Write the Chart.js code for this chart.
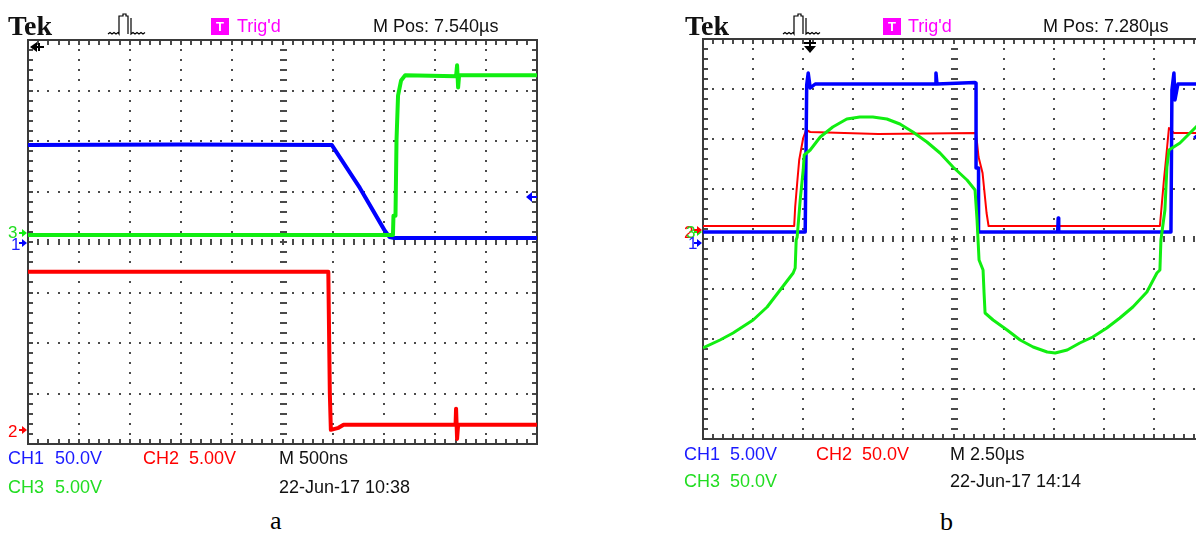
<!DOCTYPE html>
<html>
<head>
<meta charset="utf-8">
<script src="https://cdn.jsdelivr.net/npm/chart.js@4.4.1/dist/chart.umd.min.js"></script>
<style>
  html, body { margin: 0; padding: 0; width: 1196px; height: 533px; overflow: hidden; background: #fff; }
  canvas.scope { position: absolute; top: 0; }
  .t { position: absolute; white-space: pre; line-height: 1; font-family: "Liberation Sans", Arial, sans-serif; }
  .box { position: absolute; background: #ff00ff; color: #fff; font: bold 13px "Liberation Sans", Arial, sans-serif;
         display: flex; align-items: center; justify-content: center; }
</style>
</head>
<body>
<canvas id="scopeA" class="scope" style="left:0px" width="560" height="460"></canvas>
<canvas id="scopeB" class="scope" style="left:675px" width="560" height="460"></canvas>
<div id="texts"></div>
<script>
// ---- Screen a: 500 ns/div, traces in graticule divisions [time div, level div] ----
const aCh1 = [[0, 1.92], [3.0, 1.93], [5.97, 1.92], [6.52, 1.07], [7.0, 0.24], [7.1, 0.1], [7.2, 0.08], [10, 0.08]];
const aCh2 = [[0, -0.59], [5.9, -0.59], [5.93, -3.0], [5.95, -3.72], [6.1, -3.68], [6.2, -3.62], [8.4, -3.62],
              [8.41, -3.3], [8.43, -3.9], [8.45, -3.62], [10, -3.62]];
const aCh3 = [[0, 0.14], [7.17, 0.14], [7.18, 0.52], [7.22, 0.52], [7.24, 2.02], [7.27, 2.9], [7.33, 3.2],
              [7.41, 3.3], [8.41, 3.28], [8.43, 3.5], [8.45, 3.06], [8.47, 3.3], [10, 3.3]];
const aRefs = { ch1: -0.02, ch2: -3.73, ch3: 0.18 };
const aTrigLevel = 0.89;

// ---- Screen b: 2.50 us/div ----
const bCh1 = [[0, 0.14], [2.04, 0.14], [2.07, 3.08], [2.1, 3.32], [2.14, 3.02], [2.24, 3.1], [4.64, 3.1],
              [4.65, 3.32], [4.67, 3.1], [5.43, 3.13], [5.45, 3.12], [5.45, 1.42], [5.5, 1.42], [5.5, 0.14],
              [7.08, 0.14], [7.09, 0.42], [7.1, 0.14], [9.34, 0.14], [9.36, 2.98], [9.4, 3.32], [9.42, 2.78],
              [9.48, 3.1], [10, 3.1]];
const bCh2 = [[0, 0.26], [1.82, 0.26], [1.84, 0.64], [1.88, 1.12], [1.92, 1.58], [2.0, 2.02], [2.06, 2.18],
              [2.14, 2.14], [3.5, 2.1], [5.45, 2.12], [5.5, 1.64], [5.58, 1.32], [5.62, 0.92], [5.66, 0.52],
              [5.7, 0.26], [9.12, 0.26], [9.16, 0.72], [9.2, 1.18], [9.24, 1.58], [9.3, 2.22], [9.4, 2.12], [10, 2.12]];
const bCh3 = [[0, -2.18], [0.34, -2.02], [0.6, -1.88], [1.0, -1.62], [1.28, -1.36], [1.54, -1.02], [1.8, -0.68],
              [1.84, -0.58], [1.86, -0.02], [1.88, 0.04], [1.94, 0.78], [2.0, 1.38], [2.02, 1.68], [2.14, 1.78],
              [2.34, 2.04], [2.59, 2.24], [2.87, 2.4], [3.13, 2.44], [3.39, 2.44], [3.67, 2.4], [3.93, 2.3],
              [4.19, 2.14], [4.47, 1.94], [4.73, 1.72], [4.99, 1.44], [5.27, 1.18], [5.43, 0.98], [5.47, 0.38],
              [5.51, -0.42], [5.59, -0.62], [5.61, -1.08], [5.63, -1.48], [5.79, -1.62], [6.07, -1.82],
              [6.33, -2.02], [6.59, -2.16], [6.87, -2.26], [7.03, -2.28], [7.27, -2.22], [7.52, -2.08],
              [7.78, -1.96], [8.06, -1.78], [8.32, -1.58], [8.58, -1.36], [8.86, -1.06], [9.06, -0.68],
              [9.12, -0.62], [9.14, -0.02], [9.22, 0.58], [9.26, 1.44], [9.3, 1.78], [9.52, 1.92], [9.84, 2.24],
              [10, 2.4]];
const bRefs = { ch1: -0.08, ch2: 0.18, ch3: 0.14 };
const bTrigLevel = 2.04;
const bTrigPos = 2.14;

const BLUE = '#0000ff', RED = '#ff0000', GREEN = '#11ee11';

const pts = arr => arr.map(([x, y]) => ({ x, y }));

// Oscilloscope graticule: dotted divisions, ticked centre axes, ticked frame
const graticule = {
  id: 'graticule',
  beforeDatasetsDraw(chart) {
    const { ctx, chartArea: a, scales: { x, y } } = chart;
    const X = v => Math.round(x.getPixelForValue(v));
    const Y = v => Math.round(y.getPixelForValue(v));
    ctx.save();
    ctx.fillStyle = '#4a4a4a';
    for (let i = 1; i < 10; i++) {
      if (i === 5) continue;
      const px = X(i);
      for (let m = 1; m < 40; m++) ctx.fillRect(px - 1, Y(-4 + m * 0.2) - 1, 2, 2);
    }
    for (let k = -3; k <= 3; k++) {
      if (k === 0) continue;
      const py = Y(k);
      for (let m = 1; m < 50; m++) ctx.fillRect(X(m * 0.2) - 1, py - 1, 2, 2);
    }
    const cx = X(5), cy = Y(0);
    for (let m = 1; m < 40; m++) ctx.fillRect(cx - 3, Y(-4 + m * 0.2) - 1, 7, 2);
    for (let m = 1; m < 50; m++) ctx.fillRect(X(m * 0.2) - 1, cy - 3, 2, 6);
    for (let m = 1; m < 50; m++) {
      const px = X(m * 0.2);
      ctx.fillRect(px - 1, a.top, 2, 5);
      ctx.fillRect(px - 1, a.bottom - 5, 2, 5);
    }
    for (let m = 1; m < 40; m++) {
      const py = Y(-4 + m * 0.2);
      ctx.fillRect(a.left, py - 1, 5, 2);
      ctx.fillRect(a.right - 5, py - 1, 5, 2);
    }
    ctx.strokeStyle = '#3a3a3a';
    ctx.lineWidth = 2;
    ctx.strokeRect(a.left, a.top, a.right - a.left, a.bottom - a.top);
    ctx.restore();
  },
  afterDraw(chart, args, o) {
    const { ctx, chartArea: a, scales: { x, y } } = chart;
    const Y = v => y.getPixelForValue(v);
    ctx.save();
    // channel ground markers left of the frame
    for (const r of o.refs) {
      const py = Math.round(Y(r.level));
      ctx.fillStyle = r.color;
      ctx.beginPath();
      ctx.moveTo(a.left - 1, py);
      ctx.lineTo(a.left - 6, py - 4);
      ctx.lineTo(a.left - 6, py + 4);
      ctx.closePath();
      ctx.fill();
      ctx.fillRect(a.left - 9, py - 1, 4, 2);
    }
    // trigger level arrow at the right edge
    {
      const py = Math.round(Y(o.trigLevel));
      const tip = a.right - 11;
      ctx.fillStyle = BLUE;
      ctx.beginPath();
      ctx.moveTo(tip, py);
      ctx.lineTo(tip + 6, py - 5);
      ctx.lineTo(tip + 6, py + 5);
      ctx.closePath();
      ctx.fill();
      ctx.fillRect(tip + 5, py - 1, 6, 2);
    }
    // trigger position marker
    ctx.fillStyle = '#000';
    if (o.trigPos === null) {
      const px = a.left + 2, py = a.top + 7;
      ctx.beginPath();
      ctx.moveTo(px, py);
      ctx.lineTo(px + 7, py - 5);
      ctx.lineTo(px + 7, py + 5);
      ctx.closePath();
      ctx.fill();
      ctx.fillRect(px + 6, py - 1, 8, 2);
      ctx.fillRect(px + 8, py - 4, 2, 8);
    } else {
      const px = Math.round(x.getPixelForValue(o.trigPos)), py = a.top + 14;
      ctx.fillRect(px - 6, a.top + 3, 12, 2);
      ctx.fillRect(px - 1, a.top + 1, 2, 8);
      ctx.beginPath();
      ctx.moveTo(px, py);
      ctx.lineTo(px - 6, py - 7);
      ctx.lineTo(px + 6, py - 7);
      ctx.closePath();
      ctx.fill();
    }
    // acquisition pulse glyph in the status bar
    {
      const ox = 108;
      ctx.strokeStyle = '#000';
      ctx.lineWidth = 1.2;
      ctx.beginPath();
      ctx.moveTo(ox, 34);
      for (let i = 1; i <= 5; i++) ctx.lineTo(ox + i * 2, i % 2 ? 32.5 : 34);
      ctx.lineTo(ox + 11, 34);
      ctx.lineTo(ox + 11, 16);
      ctx.lineTo(ox + 15, 16);
      ctx.lineTo(ox + 15, 14);
      ctx.lineTo(ox + 18, 14);
      ctx.lineTo(ox + 18, 16);
      ctx.lineTo(ox + 20, 16);
      ctx.lineTo(ox + 20, 34);
      ctx.moveTo(ox + 23, 18);
      ctx.lineTo(ox + 23, 34);
      for (let i = 1; i <= 7; i++) ctx.lineTo(ox + 23 + i * 2, i % 2 ? 32.5 : 34);
      ctx.stroke();
    }
    ctx.restore();
  }
};

function scope(id, traces, pad, markers) {
  return new Chart(document.getElementById(id), {
    type: 'scatter',
    data: {
      datasets: traces.map(t => ({
        data: pts(t.data), showLine: true, borderColor: t.color, borderWidth: t.width,
        pointRadius: 0, tension: 0, order: t.order, borderJoinStyle: 'round'
      }))
    },
    options: {
      responsive: false, animation: false, events: [],
      layout: { padding: pad },
      plugins: { legend: { display: false }, tooltip: { enabled: false }, graticule: markers },
      scales: {
        x: { type: 'linear', min: 0, max: 10, display: false },
        y: { type: 'linear', min: -4, max: 4, display: false }
      }
    },
    plugins: [graticule]
  });
}

scope('scopeA', [
  { data: aCh3, color: GREEN, width: 4, order: 0 },
  { data: aCh1, color: BLUE, width: 4, order: 1 },
  { data: aCh2, color: RED, width: 4, order: 2 }
], { left: 28, right: 23, top: 40, bottom: 16 }, {
  refs: [{ level: aRefs.ch2, color: RED }, { level: aRefs.ch3, color: GREEN }, { level: aRefs.ch1, color: BLUE }],
  trigLevel: aTrigLevel, trigPos: null
});

scope('scopeB', [
  { data: bCh3, color: GREEN, width: 3, order: 0 },
  { data: bCh1, color: BLUE, width: 3.5, order: 1 },
  { data: bCh2, color: RED, width: 2, order: 2 }
], { left: 28, right: 31, top: 39, bottom: 21 }, {
  refs: [{ level: bRefs.ch3, color: GREEN }, { level: bRefs.ch2, color: RED }, { level: bRefs.ch1, color: BLUE }],
  trigLevel: bTrigLevel, trigPos: bTrigPos
});

// ---- status and readout text ----
const texts = document.getElementById('texts');
function label(str, x, baseline, color, size, family, weight) {
  const el = document.createElement('div');
  el.className = 't';
  el.textContent = str;
  const serif = family === 'serif';
  el.style.fontFamily = serif ? '"Liberation Serif", "Times New Roman", serif' : '"Liberation Sans", Arial, sans-serif';
  el.style.fontSize = size + 'px';
  if (weight) el.style.fontWeight = weight;
  el.style.color = color;
  el.style.left = x + 'px';
  el.style.top = (baseline - size * (serif ? 0.8375 : 0.8465)) + 'px';
  texts.appendChild(el);
}
function trigBox(x, y) {
  const el = document.createElement('div');
  el.className = 'box';
  el.textContent = 'T';
  el.style.left = x + 'px'; el.style.top = y + 'px';
  el.style.width = '18px'; el.style.height = '17px';
  texts.appendChild(el);
}
const INK = '#111', MAG = '#ff00ff', TBLUE = '#1a1aff', TGREEN = '#22dd22';

// screen a
label('Tek', 8, 35, INK, 28, 'serif', 'bold');
trigBox(211, 18);
label("Trig'd", 237, 32, MAG, 18);
label('M Pos: 7.540µs', 373, 32, INK, 18);
label('3', 8, 238, TGREEN, 17);
label('1', 11, 250, TBLUE, 17);
label('2', 8, 437, RED, 17);
label('CH1', 8, 464, TBLUE, 18);
label('50.0V', 55, 464, TBLUE, 18);
label('CH2', 143, 464, RED, 18);
label('5.00V', 189, 464, RED, 18);
label('M 500ns', 279, 464, INK, 18);
label('CH3', 8, 493, TGREEN, 18);
label('5.00V', 55, 493, TGREEN, 18);
label('22-Jun-17 10:38', 279, 493, INK, 18);
label('a', 270, 530, '#000', 26, 'serif');

// screen b
label('Tek', 685, 35, INK, 28, 'serif', 'bold');
trigBox(883, 18);
label("Trig'd", 908, 32, MAG, 18);
label('M Pos: 7.280µs', 1043, 32, INK, 18);
label('2', 684, 238, RED, 17);
label('3', 686, 238, TGREEN, 17);
label('1', 688, 249, TBLUE, 17);
label('CH1', 684, 460, TBLUE, 18);
label('5.00V', 730, 460, TBLUE, 18);
label('CH2', 816, 460, RED, 18);
label('50.0V', 862, 460, RED, 18);
label('M 2.50µs', 950, 460, INK, 18);
label('CH3', 684, 487, TGREEN, 18);
label('50.0V', 730, 487, TGREEN, 18);
label('22-Jun-17 14:14', 950, 487, INK, 18);
label('b', 940, 531, '#000', 26, 'serif');
</script>
</body>
</html>
